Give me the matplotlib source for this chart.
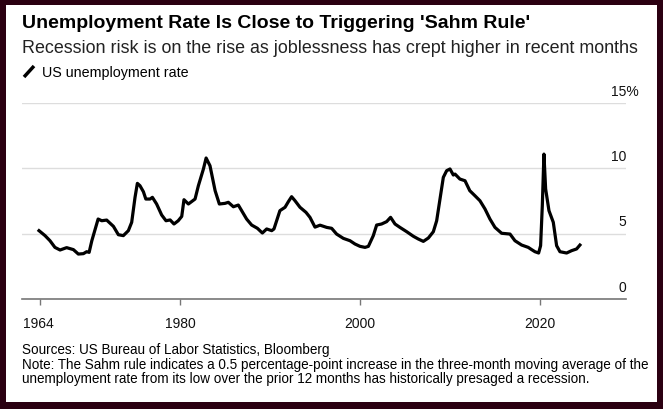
import matplotlib
matplotlib.use('Agg')
import matplotlib.pyplot as plt
from matplotlib.patches import Rectangle
from matplotlib.lines import Line2D
from matplotlib.transforms import ScaledTranslation

plt.rcParams['font.family'] = ['Liberation Sans', 'DejaVu Sans']

# Данные (год, уровень безработицы, %)
years = [
    1964.33, 1965.0, 1965.55, 1966.1, 1966.67, 1967.4, 1968.15, 1968.7, 1969.26, 1969.63,
    1969.9, 1970.2, 1970.9, 1971.3, 1971.85, 1972.6, 1973.15, 1973.7, 1974.26, 1974.63,
    1975.0, 1975.26, 1975.55, 1975.93, 1976.2, 1976.67, 1976.93, 1977.4, 1977.96, 1978.44,
    1978.9, 1979.33, 1979.8, 1980.19, 1980.44, 1980.93, 1981.67, 1982.04, 1982.6, 1982.9,
    1983.33, 1983.9, 1984.37, 1985.0, 1985.37, 1985.93, 1986.48, 1986.85, 1987.4, 1987.96,
    1988.6, 1989.15, 1989.63, 1990.19, 1990.44, 1991.1, 1991.67, 1992.04, 1992.4, 1992.78,
    1993.33, 1994.0, 1994.44, 1995.0, 1995.56, 1996.3, 1996.85, 1997.4, 1998.15, 1998.89,
    1999.44, 2000.0, 2000.56, 2000.93, 2001.48, 2001.85, 2002.4, 2002.96, 2003.4, 2003.89,
    2004.44, 2005.19, 2005.93, 2006.48, 2007.04, 2007.6, 2008.15, 2008.52, 2008.89, 2009.26,
    2009.63, 2010.0, 2010.37, 2010.56, 2011.1, 2011.67, 2012.2, 2012.78, 2013.33, 2013.89,
    2014.44, 2015.0, 2015.74, 2016.67, 2017.22, 2017.96, 2018.7, 2019.07, 2019.44, 2019.85,
    2020.07, 2020.26, 2020.44, 2020.63, 2021.0, 2021.48, 2021.85, 2022.22, 2022.96, 2023.52,
    2024.07, 2024.44,
]
rates = [
    5.23, 4.85, 4.46, 3.95, 3.75, 3.93, 3.78, 3.44, 3.47, 3.62,
    3.57, 4.46, 6.12, 5.99, 6.04, 5.56, 4.92, 4.85, 5.23, 5.87,
    7.78, 8.85, 8.67, 8.21, 7.65, 7.65, 7.78, 7.27, 6.43, 5.99,
    6.05, 5.74, 5.99, 6.32, 7.6, 7.27, 7.65, 8.67, 9.95, 10.79,
    10.2, 8.29, 7.27, 7.32, 7.4, 7.06, 7.19, 6.76, 6.12, 5.66,
    5.41, 5.05, 5.36, 5.23, 5.36, 6.76, 7.02, 7.45, 7.83, 7.52,
    7.02, 6.63, 6.25, 5.5, 5.65, 5.48, 5.41, 4.97, 4.64, 4.46,
    4.21, 4.03, 3.95, 4.03, 4.85, 5.66, 5.74, 5.92, 6.25, 5.74,
    5.48, 5.15, 4.8, 4.59, 4.41, 4.67, 5.15, 5.99, 7.65, 9.31,
    9.82, 9.95, 9.49, 9.56, 9.18, 9.05, 8.29, 7.9, 7.52, 6.89,
    6.12, 5.48, 5.03, 4.97, 4.46, 4.13, 3.95, 3.78, 3.62, 3.52,
    4.08, 7.14, 11.09, 8.42, 6.76, 5.87, 4.08, 3.62, 3.52, 3.7,
    3.83, 4.13,
]

x_ticks = [1964.4, 1980, 2000, 2020]
x_labels = ['1964', '1980', '2000', '2020']
y_ticks = [0, 5, 10, 15]
y_labels = ['0', '5', '10', '15%']

W, H = 663, 410
fig = plt.figure(figsize=(W / 100, H / 100), dpi=100)
fig.patch.set_facecolor('#2b0011')
fig.patches.append(Rectangle((6 / W, 7 / H), 651 / W, 397 / H, transform=fig.transFigure,
                             facecolor='white', edgecolor='none', zorder=-10))

# Область графика
ax = fig.add_axes([22 / W, 110 / H, 604 / W, 196 / H])
ax.set_facecolor('none')
ax.plot(years, rates, color='black', lw=2.3, solid_joinstyle='round', zorder=3)

ax.set_xlim(1962.44, 2029.56)
ax.set_ylim(0, 15)
for s in ['top', 'right', 'left']:
    ax.spines[s].set_visible(False)
ax.spines['bottom'].set_color('#777777')
ax.spines['bottom'].set_linewidth(1.2)

ax.set_yticks(y_ticks)
ax.yaxis.grid(True, color='#dddddd', lw=1)
ax.tick_params(axis='y', length=0, labelleft=False)
ax.set_axisbelow(True)

ax.set_xticks(x_ticks)
ax.set_xticklabels(x_labels)
ax.tick_params(axis='x', length=4.3, width=1, color='#777777', pad=8,
               labelsize=10, labelcolor='#111111')
first = ax.get_xticklabels()[0]
first.set_horizontalalignment('left')
first.set_transform(first.get_transform() + ScaledTranslation(-17 / 100, 0, fig.dpi_scale_trans))

# Подписи оси Y над линиями сетки ("%" выступает за правый край)
for v, lab in zip(y_ticks, y_labels):
    dx = 8.9 if lab.endswith('%') else 0
    ax.annotate(lab, xy=(1.0, v), xycoords=('axes fraction', 'data'), xytext=(dx, 6),
                textcoords='offset points', ha='right', va='baseline', fontsize=10, color='#111111')

# Заголовки
fig.text(22 / W, 1 - 27.7 / H, "Unemployment Rate Is Close to Triggering 'Sahm Rule'",
         fontsize=14, fontweight='bold', va='baseline')
fig.text(22 / W, 1 - 53.3 / H,
         'Recession risk is on the rise as joblessness has crept higher in recent months',
         fontsize=12.85, va='baseline', color='#222222')

# Легенда
fig.lines.append(Line2D([24 / W, 34 / W], [1 - 78 / H, 1 - 67 / H], transform=fig.transFigure,
                        color='black', lw=2.5, solid_capstyle='butt'))
fig.text(41.7 / W, 1 - 77.3 / H, 'US unemployment rate', fontsize=10.3, va='baseline')

# Примечания
notes = [
    'Sources: US Bureau of Labor Statistics, Bloomberg',
    'Note: The Sahm rule indicates a 0.5 percentage-point increase in the three-month moving average of the',
    'unemployment rate from its low over the prior 12 months has historically presaged a recession.',
]
for i, line in enumerate(notes):
    fig.text(22 / W, 1 - (354.3 + 14.5 * i) / H, line, fontsize=9.75, va='baseline')

fig.savefig('out.png', dpi=100, facecolor=fig.get_facecolor())
plt.close(fig)
